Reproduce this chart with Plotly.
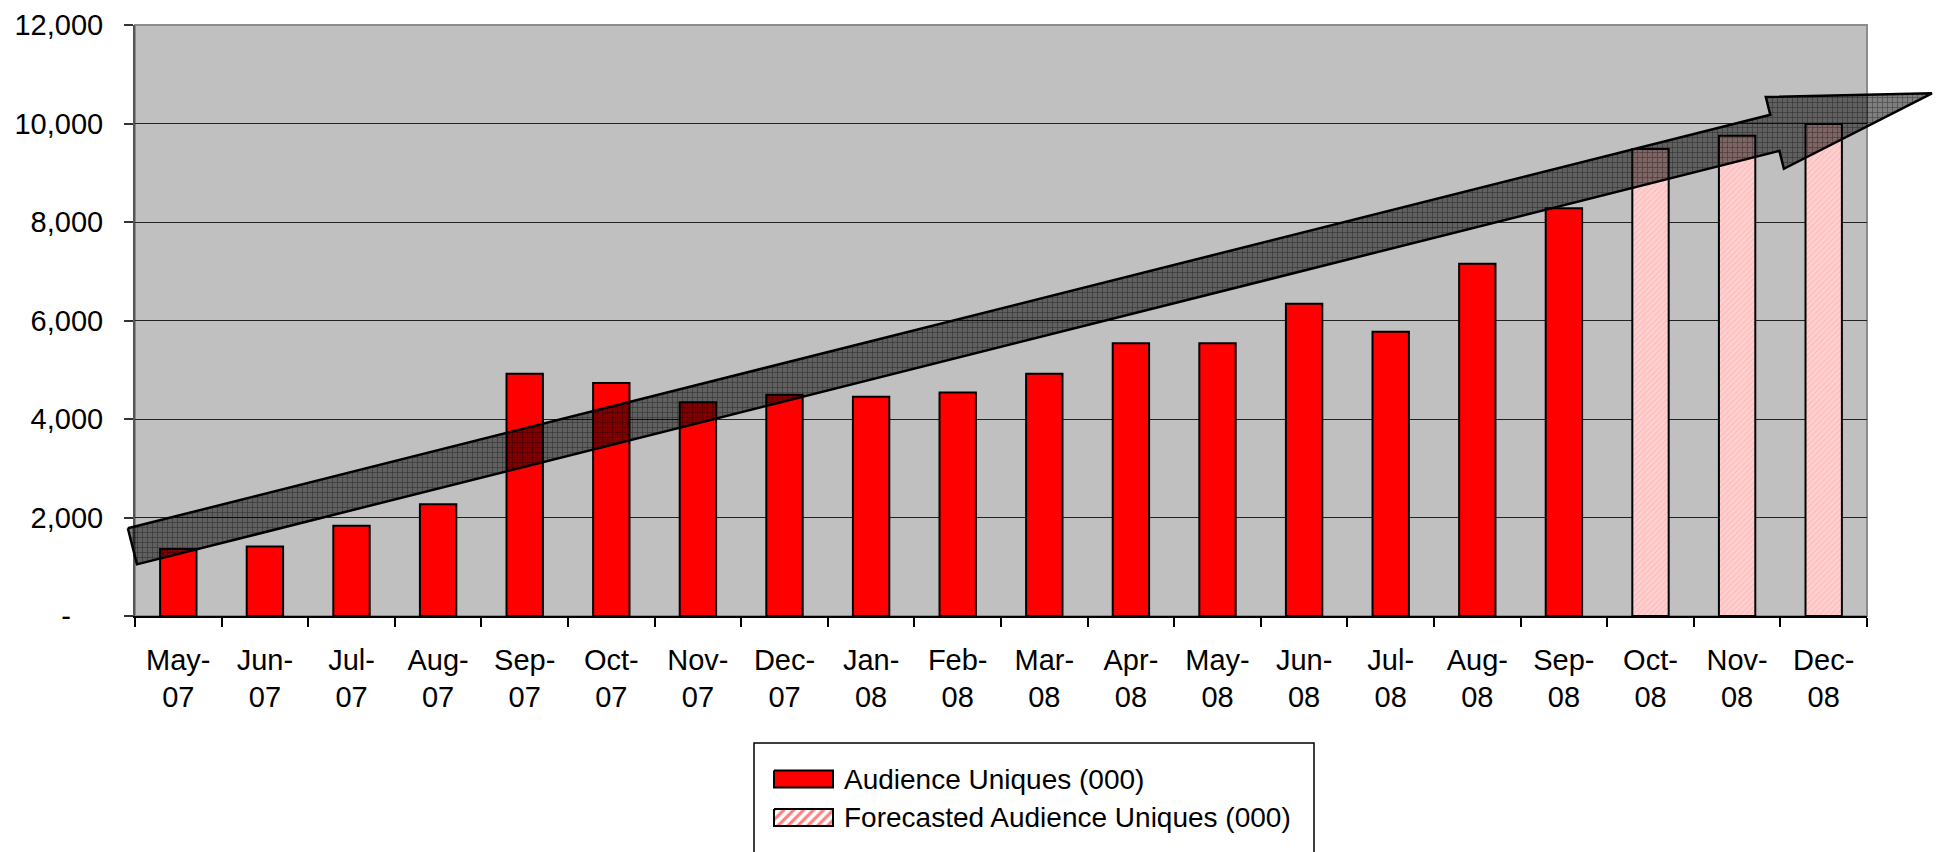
import math
import plotly.graph_objects as go

# ---------------- data ----------------
months = ["May-07", "Jun-07", "Jul-07", "Aug-07", "Sep-07", "Oct-07", "Nov-07", "Dec-07",
          "Jan-08", "Feb-08", "Mar-08", "Apr-08", "May-08", "Jun-08", "Jul-08", "Aug-08",
          "Sep-08", "Oct-08", "Nov-08", "Dec-08"]
audience = [1360, 1410, 1830, 2270, 4920, 4730, 4340, 4490, 4450, 4540, 4920, 5540,
            5540, 6340, 5770, 7150, 8280, None, None, None]
forecast = [None] * 17 + [9480, 9750, 9990]
y_tickvals = [0, 2000, 4000, 6000, 8000, 10000, 12000]
y_ticktext = ["-\u00a0\u00a0\u00a0\u00a0", "2,000", "4,000", "6,000", "8,000", "10,000", "12,000"]
series_names = ["Audience Uniques (000)", "Forecasted Audience Uniques (000)"]

# trend arrow (in data units of the main axes): tail centre and tip
ARROW_TAIL = (-0.53, 1415)
ARROW_TIP = (20.25, 10613)

# ---------------- layout geometry (pixels) ----------------
W, H = 1938, 852
PLOT_L, PLOT_R, PLOT_T, PLOT_B = 135, 1867, 25, 616
Y_MAX = 12000
FONT = "Liberation Sans, Arial, sans-serif"
LEG_BOX = (754, 1314, 743)            # left, right, top of legend frame
LEG_SWATCH_X = (774, 833)
LEG_ROWS = [779, 817.5]               # row centres
LEG_TEXT_X = 842

labels = [m.replace("-", "-<br>") for m in months]
n_cat = len(months)


def to_px(cx, vy):
    px = PLOT_L + (cx + 0.5) * (PLOT_R - PLOT_L) / n_cat
    py = PLOT_B - vy * (PLOT_B - PLOT_T) / Y_MAX
    return px, py


fig = go.Figure()

fig.add_trace(go.Bar(
    x=labels, y=audience, name=series_names[0], width=0.42,
    marker=dict(color="#FF0000", line=dict(color="black", width=2)),
    showlegend=False, xaxis="x", yaxis="y",
))
fig.add_trace(go.Bar(
    x=labels, y=forecast, name=series_names[1], width=0.42,
    marker=dict(color="#FFC4C4", line=dict(color="black", width=2),
                pattern=dict(shape="/", fgcolor="#FF9A9A", bgcolor="#FFD0D0",
                             size=4, solidity=0.25)),
    showlegend=False, xaxis="x", yaxis="y",
))

# ---- arrow polygon (pixel space, drawn on a full-figure overlay axis) ----
tx, ty = to_px(*ARROW_TAIL)
px_, py_ = to_px(*ARROW_TIP)
dx, dy = px_ - tx, py_ - ty
L = math.hypot(dx, dy)
ux, uy = dx / L, dy / L
nx, ny = -uy, ux
w_body, w_head, head_len = 18.6, 37.0, 162.0
bx, by = tx + ux * (L - head_len), ty + uy * (L - head_len)
pts = [
    (tx - nx * w_body, ty - ny * w_body),
    (bx - nx * w_body, by - ny * w_body),
    (bx - nx * w_head, by - ny * w_head),
    (px_, py_),
    (bx + nx * w_head, by + ny * w_head),
    (bx + nx * w_body, by + ny * w_body),
    (tx + nx * w_body, ty + ny * w_body),
    (tx - nx * w_body, ty - ny * w_body),
]
fig.add_trace(go.Scatter(
    x=[p[0] for p in pts], y=[p[1] for p in pts],
    mode="lines", fill="toself",
    fillcolor="rgba(0,0,0,0.5)",
    fillpattern=dict(shape="+", fgcolor="rgba(0,0,0,0.85)", bgcolor="rgba(0,0,0,0.5)",
                     size=5, solidity=0.25),
    line=dict(color="black", width=2.5),
    showlegend=False, hoverinfo="skip", xaxis="x2", yaxis="y2",
))

# ---- legend swatches (drawn on overlay axis) ----
sx0, sx1 = LEG_SWATCH_X
half_h = 8.5
swatch_styles = [
    dict(fillcolor="#FF0000"),
    dict(fillcolor="white",
         fillpattern=dict(shape="/", fgcolor="#FF0000", bgcolor="white", size=7, solidity=0.45)),
]
for row_y, style in zip(LEG_ROWS, swatch_styles):
    fig.add_trace(go.Scatter(
        x=[sx0, sx1, sx1, sx0, sx0],
        y=[row_y - half_h, row_y - half_h, row_y + half_h, row_y + half_h, row_y - half_h],
        mode="lines", fill="toself", line=dict(color="black", width=2),
        showlegend=False, hoverinfo="skip", xaxis="x2", yaxis="y2", **style,
    ))

annotations = [
    dict(x=LEG_TEXT_X / W, y=1 - ry / H, xref="paper", yref="paper",
         text=name, showarrow=False, xanchor="left", yanchor="middle",
         font=dict(size=28, family=FONT, color="black"))
    for name, ry in zip(series_names, LEG_ROWS)
]

fig.update_layout(
    width=W, height=H, autosize=False,
    margin=dict(l=0, r=0, t=0, b=0, pad=0, autoexpand=False),
    paper_bgcolor="white", plot_bgcolor="rgba(0,0,0,0)",
    barmode="overlay", showlegend=False,
    font=dict(family=FONT, color="black"),
    xaxis=dict(
        domain=[PLOT_L / W, PLOT_R / W], anchor="y", automargin=False,
        type="category", range=[-0.5, n_cat - 0.5],
        showline=True, linecolor="black", linewidth=1.5,
        ticks="outside", tickson="boundaries", ticklen=9, tickwidth=1.5, tickcolor="black",
        tickfont=dict(size=29, family=FONT, color="black"),
        ticklabelstandoff=17,
        showgrid=False, zeroline=False, fixedrange=True,
    ),
    yaxis=dict(
        domain=[1 - PLOT_B / H, 1 - PLOT_T / H], anchor="x", automargin=False,
        range=[0, Y_MAX], tickvals=y_tickvals, ticktext=y_ticktext,
        showline=True, linecolor="#555555", linewidth=2,
        ticks="outside", ticklen=9, tickwidth=1.5, tickcolor="#333333",
        tickfont=dict(size=29, family=FONT, color="black"),
        ticklabelstandoff=15,
        showgrid=True, gridcolor="#222222", gridwidth=1.2, zeroline=False, fixedrange=True,
    ),
    xaxis2=dict(domain=[0, 1], anchor="y2", range=[0, W], visible=False,
                fixedrange=True, automargin=False),
    yaxis2=dict(domain=[0, 1], anchor="x2", range=[H, 0], visible=False,
                fixedrange=True, automargin=False),
    annotations=annotations,
    shapes=[
        dict(type="rect", xref="x domain", yref="y domain", x0=0, x1=1, y0=0, y1=1,
             fillcolor="#C0C0C0", line=dict(color="#8C8C8C", width=2), layer="below"),
        dict(type="rect", xref="paper", yref="paper",
             x0=LEG_BOX[0] / W, x1=LEG_BOX[1] / W, y0=-0.1, y1=1 - LEG_BOX[2] / H,
             fillcolor="white", line=dict(color="black", width=1.5), layer="below"),
    ],
)

fig.write_html("out.html", config={"displayModeBar": False},
               post_script="document.body.style.margin='0';")
